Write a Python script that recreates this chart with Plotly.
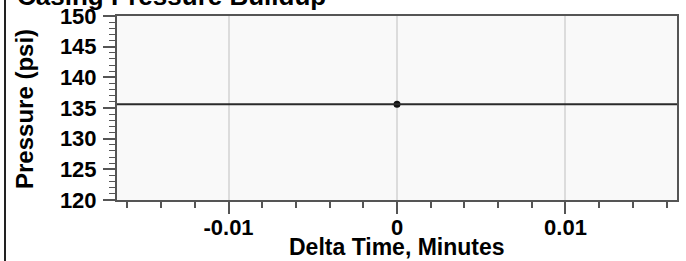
import plotly.graph_objects as go

# Data
delta_time = [0.0]
pressure = [135.6]
line_level = 135.6

x_range = [-0.01662, 0.01662]
y_range = [120, 150]
x_tickvals = [-0.01, 0, 0.01]
x_ticktext = ["-0.01", "0", "0.01"]
y_tickvals = [120, 125, 130, 135, 140, 145, 150]

FONT = "Liberation Sans, Arial, sans-serif"

# layout geometry (pixels)
W, H = 686, 261
ML, MR, MT, MB = 117, 9, 16, 61
PW, PH = W - ML - MR, H - MT - MB


def px_x(p):
    return (p - ML) / PW


def px_y(p):
    return (H - MB - p) / PH


fig = go.Figure()
fig.add_hline(y=line_level, line=dict(color="#2b2b2b", width=2))
fig.add_trace(go.Scatter(
    x=delta_time, y=pressure, mode="markers",
    marker=dict(color="#111111", size=7),
    showlegend=False,
))

fig.update_layout(
    width=W, height=H,
    margin=dict(l=ML, r=MR, t=MT, b=MB),
    paper_bgcolor="white",
    plot_bgcolor="#f9f9f9",
    font=dict(family=FONT, color="black"),
)

fig.update_xaxes(
    range=x_range, automargin=False,
    tickvals=x_tickvals, ticktext=x_ticktext,
    ticks="outside", ticklen=12, tickwidth=2, tickcolor="#555555",
    tickfont=dict(family=FONT, size=22, color="black", weight="bold"),
    ticklabelstandoff=-5,
    showgrid=True, gridcolor="#dcdcdc", gridwidth=2,
    zeroline=False,
    showline=True, linecolor="#555555", linewidth=2, mirror=True,
    minor=dict(dtick=0.002, tick0=0, ticks="outside", ticklen=6,
               tickwidth=2, tickcolor="#555555", showgrid=False),
)

fig.update_yaxes(
    range=y_range, automargin=False,
    tickvals=y_tickvals,
    ticks="outside", ticklen=12, tickwidth=2, tickcolor="#555555",
    tickfont=dict(family=FONT, size=22, color="black", weight="bold"),
    ticklabelstandoff=2,
    showgrid=False, zeroline=False,
    showline=True, linecolor="#555555", linewidth=2, mirror=True,
    minor=dict(dtick=1, tick0=120, ticks="outside", ticklen=6,
               tickwidth=1, tickcolor="#555555", showgrid=False),
)

# titles
fig.add_annotation(text="<b>Casing Pressure Buildup</b>", xref="paper", yref="paper",
                   x=px_x(15), y=px_y(-4), xanchor="left", yanchor="middle",
                   showarrow=False, font=dict(family=FONT, size=26, color="black"))
fig.add_annotation(text="<b>Delta Time, Minutes</b>", xref="paper", yref="paper",
                   x=0.5, y=px_y(247), xanchor="center", yanchor="middle",
                   showarrow=False, font=dict(family=FONT, size=23, color="black"))
fig.add_annotation(text="<b>Pressure (psi)</b>", xref="paper", yref="paper",
                   x=px_x(24), y=px_y(109), xanchor="center", yanchor="middle",
                   textangle=-90,
                   showarrow=False, font=dict(family=FONT, size=24, color="black"))

# left border line of the frame
fig.add_shape(type="line", xref="paper", yref="paper",
              x0=px_x(5), x1=px_x(5), y0=px_y(H + 5), y1=px_y(-5),
              line=dict(color="#222222", width=2))

fig.write_html("out.html", config={"displayModeBar": False},
               post_script="document.body.style.margin='0';")
